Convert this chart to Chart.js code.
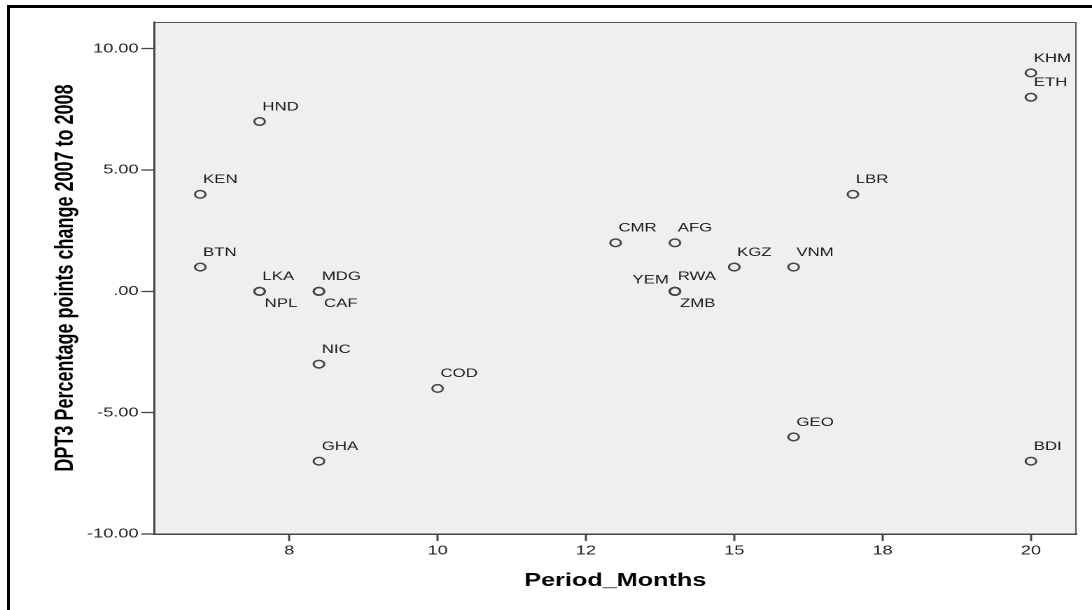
<!DOCTYPE html>
<html>
<head>
<meta charset="utf-8">
<title>DPT3 change vs Period_Months</title>
<script src="https://cdn.jsdelivr.net/npm/chart.js@4.4.1/dist/chart.umd.min.js"></script>
<style>
  html, body { margin: 0; padding: 0; background: #fff; }
  body { width: 1092px; height: 610px; overflow: hidden; position: relative; }
  #frame { position: absolute; left: 7px; top: 5px; width: 1200px; height: 700px; border-left: 3px solid #000; border-top: 3px solid #000; }
  /* the source picture is stretched sideways, so draw at 780px and widen by 1.4 */
  #stretch { position: absolute; left: 0; top: 0; width: 780px; height: 610px; transform: scaleX(1.4); transform-origin: 0 0; }
</style>
</head>
<body>
<div id="frame"></div>
<div id="stretch"><canvas id="scatter" width="780" height="610"></canvas></div>
<script>
// SPSS-style scatter: DPT3 change 2007->2008 against Period_Months

const countries = ['KEN', 'BTN', 'HND', 'LKA', 'NPL', 'MDG', 'CAF', 'NIC', 'GHA', 'COD', 'CMR',
    'AFG', 'YEM', 'RWA', 'ZMB', 'KGZ', 'VNM', 'GEO', 'LBR', 'KHM', 'ETH', 'BDI'];
const periodMonths = [6, 6, 7, 7, 7, 8, 8, 8, 8, 10, 13, 14, 14, 14, 14, 15, 16, 16, 17, 20, 20, 20];
const dpt3Change = [4, 1, 7, 0, 0, 0, 0, -3, -7, -4, 2, 2, 0, 0, 0, 1, 1, -6, 4, 9, 8, -7];

const xTickValues = [7.5, 10, 12.5, 15, 17.5, 20];
const xTickLabels = ['8', '10', '12', '15', '18', '20'];
const yTickValues = [-10, -5, 0, 5, 10];
const yTickLabels = ['-10.00', '-5.00', '.00', '5.00', '10.00'];

const FONT = '"Liberation Sans", Arial, sans-serif';

// where a label sits if not the usual up-right spot
const labelPlace = { NPL: 'below', CAF: 'below', ZMB: 'below', YEM: 'left' };

const plotFrame = {
    id: 'plotFrame',
    beforeDraw(chart) {
        const { ctx, chartArea: a } = chart;
        ctx.save();
        ctx.fillStyle = '#efefef';
        ctx.fillRect(a.left, a.top, a.right - a.left, a.bottom - a.top);
        ctx.strokeStyle = '#555';
        ctx.lineWidth = 1;
        ctx.beginPath();
        ctx.moveTo(a.left, a.top + 0.5);
        ctx.lineTo(a.right - 0.5, a.top + 0.5);
        ctx.lineTo(a.right - 0.5, a.bottom);
        ctx.stroke();
        ctx.restore();
    }
};

const pointLabels = {
    id: 'pointLabels',
    afterDatasetsDraw(chart) {
        const ctx = chart.ctx;
        const meta = chart.getDatasetMeta(0);
        ctx.save();
        ctx.font = '12px ' + FONT;
        ctx.fillStyle = '#1a1a1a';
        ctx.textBaseline = 'middle';
        meta.data.forEach((pt, i) => {
            const code = countries[i];
            const place = labelPlace[code] || 'above';
            if (place === 'below') {
                ctx.textAlign = 'left';
                ctx.fillText(code, pt.x + 3.6, pt.y + 12.5);
            } else if (place === 'left') {
                ctx.textAlign = 'right';
                ctx.fillText(code, pt.x - 4.3, pt.y - 11);
            } else {
                ctx.textAlign = 'left';
                ctx.fillText(code, pt.x + 2, pt.y - 14.5);
            }
        });
        ctx.restore();
    }
};

new Chart(document.getElementById('scatter').getContext('2d'), {
    type: 'scatter',
    data: {
        datasets: [{
            label: 'DPT3',
            data: periodMonths.map((m, i) => ({ x: m, y: dpt3Change[i] })),
            pointStyle: 'circle',
            pointRadius: 3.8,
            pointHoverRadius: 3.8,
            borderWidth: 1.5,
            borderColor: '#444',
            backgroundColor: 'rgba(0,0,0,0)'
        }]
    },
    options: {
        responsive: false,
        devicePixelRatio: 2,
        animation: false,
        events: [],
        layout: { padding: { top: 22, right: 11, left: 0, bottom: 0 } },
        plugins: { legend: { display: false }, tooltip: { enabled: false } },
        scales: {
            x: {
                type: 'linear',
                position: 'bottom',
                min: 5.22,
                max: 20.77,
                afterBuildTicks: (s) => { s.ticks = xTickValues.map((v) => ({ value: v })); },
                afterFit: (s) => { s.height = 76; },
                ticks: {
                    autoSkip: false,
                    maxRotation: 0,
                    padding: 2,
                    color: '#222',
                    font: { family: FONT, size: 13 },
                    callback: (v, i) => xTickLabels[i]
                },
                grid: { drawOnChartArea: false, drawTicks: true, tickLength: 7, tickWidth: 1.5, tickColor: '#444' },
                border: { display: true, color: '#444', width: 1.5 },
                title: {
                    display: true,
                    text: 'Period_Months',
                    color: '#000',
                    font: { family: FONT, size: 18, weight: 'bold' },
                    padding: { top: 0, bottom: 18 }
                }
            },
            y: {
                type: 'linear',
                min: -10,
                max: 11.1,
                afterBuildTicks: (s) => { s.ticks = yTickValues.map((v) => ({ value: v })); },
                afterFit: (s) => { s.width = 110; },
                ticks: {
                    autoSkip: false,
                    padding: 2,
                    color: '#222',
                    font: { family: FONT, size: 13 },
                    callback: (v, i) => yTickLabels[i]
                },
                grid: { drawOnChartArea: false, drawTicks: true, tickLength: 9, tickWidth: 1.3, tickColor: '#444' },
                border: { display: true, color: '#444', width: 1.5 },
                title: {
                    display: true,
                    text: 'DPT3 Percentage points change 2007 to 2008',
                    color: '#000',
                    font: { family: FONT, size: 18, weight: 'bold' },
                    padding: { top: 36, bottom: 0 }
                }
            }
        }
    },
    plugins: [plotFrame, pointLabels]
});
</script>
</body>
</html>
